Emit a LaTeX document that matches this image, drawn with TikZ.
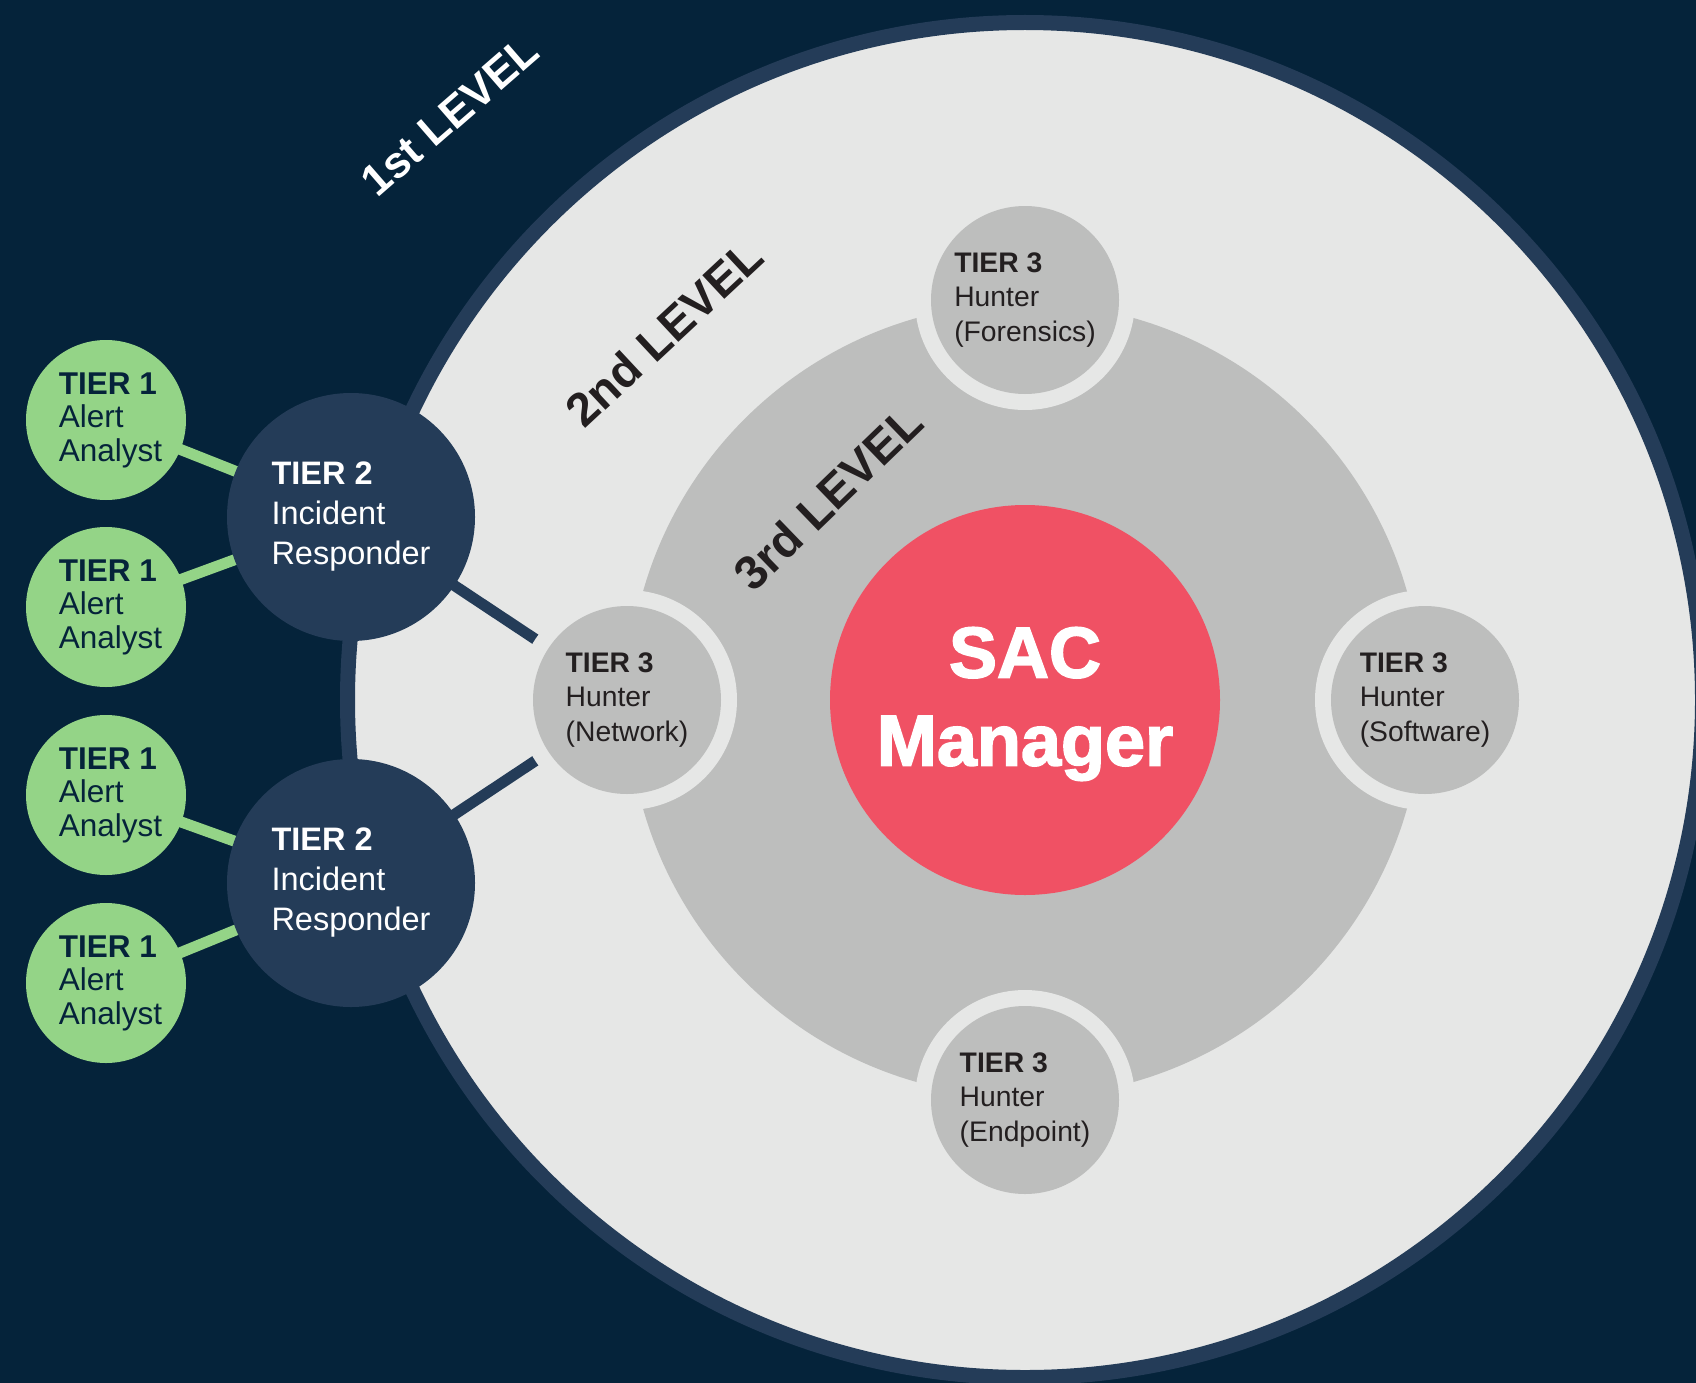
\documentclass[tikz,border=0pt]{standalone}
\usepackage{fontspec}
\setmainfont{Liberation Sans}
\newfontfamily\heavyfont{Liberation Sans}[BoldFeatures={FakeBold=2.2}]
\definecolor{navybg}{HTML}{05233A}
\definecolor{ringblue}{HTML}{243C58}
\definecolor{paleg}{HTML}{E6E7E6}
\definecolor{midg}{HTML}{BDBEBD}
\definecolor{sacred}{HTML}{F05164}
\definecolor{leaf}{HTML}{94D487}
\definecolor{ink}{HTML}{231F20}
% analyst text block, nudged a little to the right inside its disc
\newcommand{\analysttext}{\hspace*{9pt}\textbf{TIER 1}\\\hspace*{9pt}Alert\\\hspace*{9pt}Analyst}
\begin{document}
\begin{tikzpicture}[x=1pt,y=-1pt,
  tierone/.style={circle, fill=leaf, minimum size=160pt, inner sep=0pt, align=left,
    text=navybg, font=\fontsize{31.5}{33.5}\selectfont},
  tiertwo/.style={circle, fill=ringblue, minimum size=248pt, inner sep=0pt, align=left,
    text=white, font=\fontsize{32.5}{40}\selectfont},
  tierthree/.style={circle, fill=midg, minimum size=188pt, inner sep=0pt, align=left,
    text=ink, font=\fontsize{28.3}{34.6}\selectfont},
  halo/.style={circle, fill=paleg, minimum size=220pt, inner sep=0pt},
  greenlink/.style={draw=leaf, line width=11pt},
  navylink/.style={draw=ringblue, line width=11pt},
  levellabel/.style={font=\bfseries\fontsize{#1}{56}\selectfont}]

% canvas
\clip (0,0) rectangle (1696,1383);
\fill[navybg] (0,0) rectangle (1696,1383);

% 1st level disc with its rim, 3rd level disc
\draw[fill=paleg, draw=ringblue, line width=15pt] (1025,700) circle (677.5);
\fill[midg] (1025,700) circle (397);

% node positions
\coordinate (pc) at (1025,700);
\coordinate (pf) at (1025,300);
\coordinate (pn) at (627,700);
\coordinate (ps) at (1425,700);
\coordinate (pe) at (1025,1100);
\coordinate (pa) at (351,517);
\coordinate (pb) at (351,883);
\coordinate (p1) at (106,420);
\coordinate (p2) at (106,607);
\coordinate (p3) at (106,795);
\coordinate (p4) at (106,983);

% connectors
\draw[greenlink] (p1) -- (pa);
\draw[greenlink] (p2) -- (pa);
\draw[greenlink] (p3) -- (pb);
\draw[greenlink] (p4) -- (pb);
\draw[navylink] (pa) -- (pn);
\draw[navylink] (pb) -- (pn);

% light halos around the tier 3 hunters
\node[halo] (hf) at (pf) {};
\node[halo] (hn) at (pn) {};
\node[halo] (hs) at (ps) {};
\node[halo] (he) at (pe) {};

% tier 3 hunters
\node[tierthree] (forensics) at (pf) {\textbf{TIER 3}\\Hunter\\(Forensics)};
\node[tierthree] (network) at (pn) {\textbf{TIER 3}\\Hunter\\(Network)};
\node[tierthree] (software) at (ps) {\textbf{TIER 3}\\Hunter\\(Software)};
\node[tierthree] (endpoint) at (pe) {\textbf{TIER 3}\\Hunter\\(Endpoint)};

% manager
\node[circle, fill=sacred, minimum size=390pt, inner sep=0pt] (sac) at (pc) {};
\node[align=center, text=white, inner sep=0pt,
  font=\heavyfont\bfseries\fontsize{72}{88}\selectfont] (saclabel) at ([yshift=-4pt]sac.center) {SAC\\Manager};

% tier 2 responders
\node[tiertwo] (resp1) at (pa) {\textbf{TIER 2}\\Incident\\Responder};
\node[tiertwo] (resp2) at (pb) {\textbf{TIER 2}\\Incident\\Responder};

% tier 1 analysts
\node[tierone] (alert1) at (p1) {\analysttext};
\node[tierone] (alert2) at (p2) {\analysttext};
\node[tierone] (alert3) at (p3) {\analysttext};
\node[tierone] (alert4) at (p4) {\analysttext};

% level labels
\node[levellabel=44, text=white, rotate=41] (lvl1) at (450,116) {1st LEVEL};
\node[levellabel=47, text=ink, rotate=43] (lvl2) at (664,333) {2nd LEVEL};
\node[levellabel=47.5, text=ink, rotate=44] (lvl3) at (828,498) {3rd LEVEL};
\end{tikzpicture}
\end{document}
